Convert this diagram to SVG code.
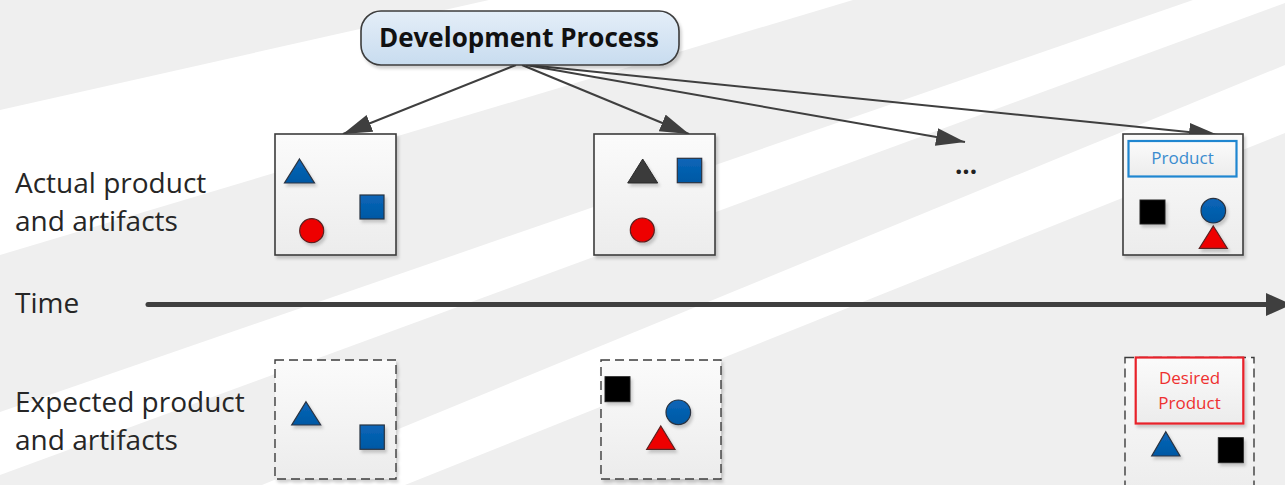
<svg xmlns="http://www.w3.org/2000/svg" width="1285" height="485" viewBox="0 0 1285 485">
<style>
.lbl{font-family:"Open Sans","Liberation Sans",sans-serif;font-size:28px;fill:#262626}
.box{fill:url(#boxg);stroke:#3c3c3c;stroke-width:1.6}
.dbox{fill:url(#boxg);stroke:#3c3c3c;stroke-width:1.4;stroke-dasharray:9 5}
.blue{fill:url(#blueg);stroke:#2a3340;stroke-width:1.2}
.red{fill:#ee0000;stroke:#5a2020;stroke-width:1.2}
.blk{fill:#000;stroke:#222;stroke-width:1}
.dark{fill:#3a3a3a;stroke:#2a2a2a;stroke-width:1}
.conn{stroke:#3f3f3f;stroke-width:2;fill:none}
.sh{filter:url(#shadow)}
</style>
<defs>
<linearGradient id="boxg" x1="0" y1="0" x2="0" y2="1">
<stop offset="0" stop-color="#fbfbfb"/><stop offset="1" stop-color="#ececec"/>
</linearGradient>
<linearGradient id="nodeg" x1="0" y1="0" x2="0" y2="1">
<stop offset="0" stop-color="#e4eef8"/><stop offset="1" stop-color="#c8dcef"/>
</linearGradient>
<linearGradient id="blueg" x1="0" y1="0" x2="0" y2="1">
<stop offset="0" stop-color="#0a66b8"/><stop offset="1" stop-color="#0058a4"/>
</linearGradient>
<filter id="shadow" x="-20%" y="-20%" width="150%" height="150%">
<feDropShadow dx="2" dy="3" stdDeviation="1.5" flood-color="#000" flood-opacity="0.18"/>
</filter>
<marker id="arr" markerUnits="userSpaceOnUse" markerWidth="30" markerHeight="20" refX="29" refY="9" orient="auto">
<path d="M0,0 L29,9 L0,18 Z" fill="#3f3f3f"/>
</marker>
</defs>

<g id="background">
<rect x="0" y="0" width="1285" height="485" fill="#efefef"/>
<polygon points="0,110 489,0 853,0 0,255" fill="#ffffff"/>
<polygon points="0,412 1193,0 1285,0 1285,3 0,475" fill="#ffffff"/>
<polygon points="262,485 1285,65 1285,133 405,485" fill="#ffffff"/>
</g>

<g id="labels">
<text class="lbl" x="15" y="193">Actual product</text>
<text class="lbl" x="15" y="231">and artifacts</text>
<text class="lbl" x="15" y="313">Time</text>
<text class="lbl" x="15" y="412">Expected product</text>
<text class="lbl" x="15" y="450">and artifacts</text>
</g>

<g id="connectors">
<line class="conn" x1="516" y1="65" x2="343" y2="134" marker-end="url(#arr)"/>
<line class="conn" x1="522" y1="65" x2="689" y2="134" marker-end="url(#arr)"/>
<line class="conn" x1="526" y1="65" x2="965" y2="142" marker-end="url(#arr)"/>
<line class="conn" x1="528" y1="65" x2="1218" y2="135" marker-end="url(#arr)"/>
</g>

<g id="time-axis">
<line x1="148" y1="304.5" x2="1270" y2="304.5" stroke="#3f3f3f" stroke-width="5" stroke-linecap="round"/>
<polygon points="1266,293 1292,304.5 1266,316" fill="#3f3f3f"/>
</g>

<g id="dev-process">
<rect x="361" y="11" width="318" height="54" rx="20" ry="20" fill="url(#nodeg)" stroke="#3c3c3c" stroke-width="1.6" class="sh"/>
<text x="519" y="47" text-anchor="middle" font-family="'Open Sans','Liberation Sans',sans-serif" font-weight="700" font-size="26" fill="#111">Development Process</text>
</g>

<g id="actual-1">
<rect class="box sh" x="275" y="134" width="121" height="121"/>
<polygon class="blue sh" points="299.5,159 314.5,183 284.5,183"/>
<rect class="blue sh" x="360" y="195" width="24" height="24"/>
<circle class="red sh" cx="311.7" cy="230.7" r="12"/>
</g>

<g id="actual-2">
<rect class="box sh" x="594" y="134" width="121" height="121"/>
<polygon class="dark sh" points="642.7,159 657.7,183 627.7,183"/>
<rect class="blue sh" x="677.3" y="158.3" width="24.4" height="24.4"/>
<circle class="red sh" cx="642.3" cy="230" r="12"/>
</g>

<g id="actual-ellipsis">
<text x="966" y="174" text-anchor="middle" font-family="'Open Sans','Liberation Sans',sans-serif" font-weight="700" font-size="26" fill="#222">...</text>
</g>

<g id="actual-final">
<rect class="box sh" x="1123" y="134" width="120" height="121"/>
<rect x="1128.5" y="141" width="108" height="35.5" fill="url(#boxg)" stroke="#1f86d0" stroke-width="2.2"/>
<text x="1182.5" y="164" text-anchor="middle" font-family="'Open Sans','Liberation Sans',sans-serif" font-size="17" fill="#3a8ccf">Product</text>
<rect class="blk sh" x="1140" y="200" width="25" height="24"/>
<circle class="blue sh" cx="1213.3" cy="210.7" r="12.3"/>
<polygon class="red sh" points="1213.3,226 1227.3,248.3 1199.3,248.3"/>
</g>

<g id="expected-1">
<rect class="dbox sh" x="275" y="360" width="121" height="119"/>
<polygon class="blue sh" points="306,401.7 320.7,425 291.7,425"/>
<rect class="blue sh" x="360" y="425" width="24.3" height="24.3"/>
</g>

<g id="expected-2">
<rect class="dbox sh" x="601" y="360" width="120" height="119"/>
<rect class="blk sh" x="605" y="376.7" width="25" height="25"/>
<circle class="blue sh" cx="678.3" cy="412.3" r="12.3"/>
<polygon class="red sh" points="660.8,426 675,449.3 646.7,449.3"/>
</g>

<g id="expected-final">
<rect class="dbox" x="1125" y="357.5" width="129" height="140"/>
<rect x="1135.7" y="357.5" width="107.6" height="66" fill="url(#boxg)" stroke="#e8202a" stroke-width="2.2" class="sh"/>
<text x="1189.5" y="384" text-anchor="middle" font-family="'Open Sans','Liberation Sans',sans-serif" font-size="17" fill="#ee3030">Desired</text>
<text x="1189.5" y="409" text-anchor="middle" font-family="'Open Sans','Liberation Sans',sans-serif" font-size="17" fill="#ee3030">Product</text>
<polygon class="blue sh" points="1165.8,431.7 1180,456 1151.7,456"/>
<rect class="blk sh" x="1218.3" y="437.7" width="25" height="25"/>
</g>
</svg>
